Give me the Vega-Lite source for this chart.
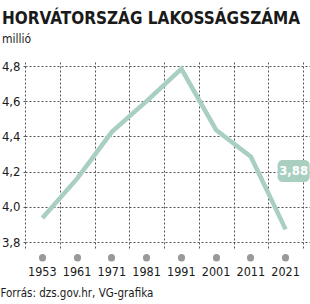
{
  "$schema": "https://vega.github.io/schema/vega-lite/v6.json",
  "width": 285,
  "height": 186,
  "autosize": {"type": "none"},
  "padding": {"left": 25, "top": 62, "right": 0, "bottom": 56},
  "background": "white",
  "config": {
    "locale": {"number": {"decimal": ",", "thousands": " ", "grouping": [3], "currency": ["", " Ft"]}},
    "view": {"stroke": null},
    "font": "DejaVu Sans Condensed, Roboto, sans-serif"
  },
  "title": {
    "text": "HORVÁTORSZÁG LAKOSSÁGSZÁMA",
    "subtitle": "millió",
    "anchor": "start",
    "frame": "group",
    "dx": -23,
    "offset": 14,
    "font": "DejaVu Sans Condensed, Roboto, sans-serif",
    "fontSize": 17,
    "fontWeight": "bold",
    "color": "#1a1a1a",
    "subtitleFont": "DejaVu Sans Condensed, Roboto, sans-serif",
    "subtitleFontSize": 12,
    "subtitleColor": "#1a1a1a",
    "subtitlePadding": 6
  },
  "data": {
    "values": [
      {"year": "1953", "pop": 3.936},
      {"year": "1961", "pop": 4.16},
      {"year": "1971", "pop": 4.426},
      {"year": "1981", "pop": 4.601},
      {"year": "1991", "pop": 4.784},
      {"year": "2001", "pop": 4.437},
      {"year": "2011", "pop": 4.285},
      {"year": "2021", "pop": 3.872}
    ]
  },
  "layer": [
    {
      "mark": {"type": "line", "color": "#a9cfc1", "strokeWidth": 4.5, "strokeJoin": "miter"},
      "encoding": {
        "x": {
          "field": "year", "type": "ordinal",
          "scale": {"paddingInner": 0, "paddingOuter": 0.1007, "align": 0},
          "axis": {"orient": "bottom", "tickBand": "extent", "grid": true, "gridDash": [2, 2], "gridColor": "#555", "gridOpacity": 1, "labels": false, "ticks": false, "domain": false, "title": null}
        },
        "y": {
          "field": "pop", "type": "quantitative",
          "scale": {"domain": [3.766, 4.823], "nice": false, "zero": false},
          "axis": {"orient": "left", "values": [3.8, 4, 4.2, 4.4, 4.6, 4.8], "format": ".1f", "labelOverlap": false, "grid": true, "gridDash": [2, 2], "gridColor": "#555", "gridOpacity": 1, "domain": false, "ticks": true, "tickSize": 4, "tickDash": [2, 2], "tickColor": "#555", "labelPadding": 1, "labelFontSize": 13, "labelColor": "#1a1a1a", "title": null}
        }
      }
    },
    {
      "data": {"values": [{"year": "2021", "lo": 4.141, "hi": 4.266, "mid": 4.204, "lab": "3,88"}]},
      "mark": {"type": "bar", "width": 32, "xOffset": 8, "cornerRadius": 5, "color": "#a9cfc1"},
      "encoding": {
        "x": {
          "field": "year", "type": "ordinal",
          "axis": {"orient": "bottom", "offset": 9, "domain": false, "grid": false, "ticks": true, "tickSize": 0.5, "tickWidth": 7, "tickCap": "round", "tickColor": "#999", "labelPadding": 8, "labelFontSize": 12.5, "labelColor": "#1a1a1a", "labelAngle": 0, "title": "Forrás: dzs.gov.hr, VG-grafika", "titleAnchor": "start", "titleX": -25, "titleY": 30, "titleBaseline": "top", "titleFontWeight": "normal", "titleFontSize": 11.5, "titleColor": "#1a1a1a"}
        },
        "y": {"field": "lo", "type": "quantitative", "axis": null},
        "y2": {"field": "hi"}
      }
    },
    {
      "data": {"values": [{"year": "2021", "lo": 4.141, "hi": 4.266, "mid": 4.204, "lab": "3,88"}]},
      "mark": {"type": "text", "dx": 8, "color": "white", "fontWeight": "bold", "fontSize": 13, "align": "center", "baseline": "middle"},
      "encoding": {
        "x": {"field": "year", "type": "ordinal", "axis": null},
        "y": {"field": "mid", "type": "quantitative", "axis": null},
        "text": {"field": "lab"}
      }
    }
  ],
  "resolve": {"axis": {"x": "independent", "y": "independent"}}
}
